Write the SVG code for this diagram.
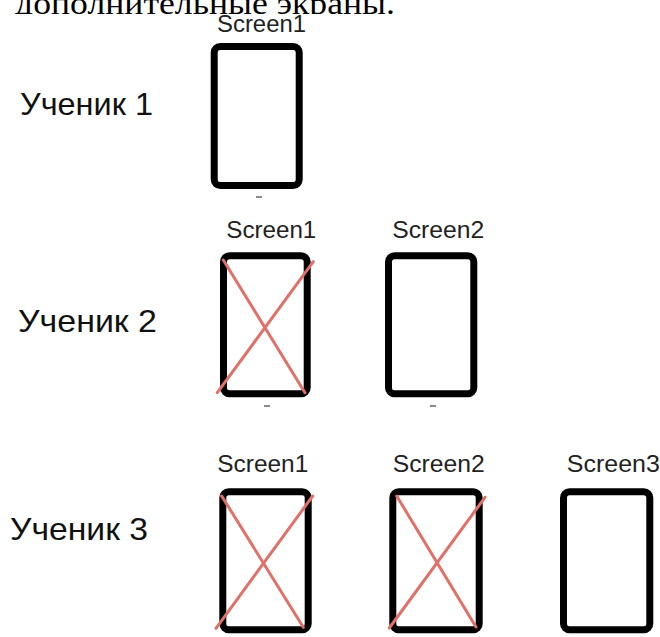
<svg xmlns="http://www.w3.org/2000/svg" width="660" height="637" viewBox="0 0 660 637">
  <style>
    .screen { fill: #ffffff; stroke: #000000; stroke-width: 7; }
    .cross { stroke: #e07068; stroke-width: 3; stroke-linecap: round; fill: none; }
    .dash { stroke: #8a8a8a; stroke-width: 2; }
    .lbl { font-family: "Liberation Sans", Arial, sans-serif; font-size: 23px; fill: #222222; text-anchor: middle; }
    .stu { font-family: "Liberation Sans", Arial, sans-serif; font-size: 32px; fill: #111111; }
    .top { font-family: "Liberation Serif", "Times New Roman", serif; font-size: 32px; fill: #000000; }
  </style>
  <defs>
    <clipPath id="topclip"><rect x="0" y="0" width="660" height="14"/></clipPath>
  </defs>
  <rect width="660" height="637" fill="#ffffff"/>
  <text class="top" x="15" y="14" textLength="380" lengthAdjust="spacingAndGlyphs" clip-path="url(#topclip)">дополнительные экраны.</text>

  <g id="student1">
    <text class="stu" x="20" y="115" textLength="133" lengthAdjust="spacingAndGlyphs">Ученик 1</text>
  </g>
  <g id="student2">
    <text class="stu" x="18" y="332" textLength="139" lengthAdjust="spacingAndGlyphs">Ученик 2</text>
  </g>
  <g id="student3">
    <text class="stu" x="10" y="540" textLength="138" lengthAdjust="spacingAndGlyphs">Ученик 3</text>
  </g>

  <g id="s1-screen1">
    <text class="lbl" x="261.5" y="32" textLength="89" lengthAdjust="spacingAndGlyphs">Screen1</text>
    <rect class="screen" x="214.2" y="46.5" width="85" height="139" rx="6"/>
    <line class="dash" x1="256" y1="197" x2="262" y2="197"/>
  </g>

  <g id="s2-screen1">
    <text class="lbl" x="271.3" y="238" textLength="90" lengthAdjust="spacingAndGlyphs">Screen1</text>
    <rect class="screen" x="223.5" y="255.8" width="83.7" height="138" rx="6"/>
    <line class="cross" x1="223.3" y1="260" x2="305" y2="392.7"/>
    <line class="cross" x1="313.3" y1="261.7" x2="217.3" y2="392.7"/>
    <line class="dash" x1="264" y1="406" x2="270" y2="406"/>
  </g>
  <g id="s2-screen2">
    <text class="lbl" x="438.3" y="238" textLength="92" lengthAdjust="spacingAndGlyphs">Screen2</text>
    <rect class="screen" x="388.5" y="255.8" width="85.3" height="138" rx="6"/>
    <line class="dash" x1="430" y1="406" x2="436" y2="406"/>
  </g>

  <g id="s3-screen1">
    <text class="lbl" x="262.8" y="471.7" textLength="91" lengthAdjust="spacingAndGlyphs">Screen1</text>
    <rect class="screen" x="222.8" y="491.8" width="85.4" height="138" rx="6"/>
    <line class="cross" x1="221.7" y1="496" x2="303.3" y2="627.3"/>
    <line class="cross" x1="312.7" y1="496" x2="216" y2="628.3"/>
  </g>
  <g id="s3-screen2">
    <text class="lbl" x="438.8" y="471.7" textLength="92" lengthAdjust="spacingAndGlyphs">Screen2</text>
    <rect class="screen" x="392.8" y="491.8" width="86.4" height="138" rx="6"/>
    <line class="cross" x1="396.7" y1="496" x2="476" y2="627"/>
    <line class="cross" x1="485" y1="497.3" x2="389.3" y2="628"/>
  </g>
  <g id="s3-screen3">
    <text class="lbl" x="613.3" y="471.7" textLength="93" lengthAdjust="spacingAndGlyphs">Screen3</text>
    <rect class="screen" x="563.5" y="491.8" width="86.3" height="138" rx="6"/>
  </g>
</svg>
